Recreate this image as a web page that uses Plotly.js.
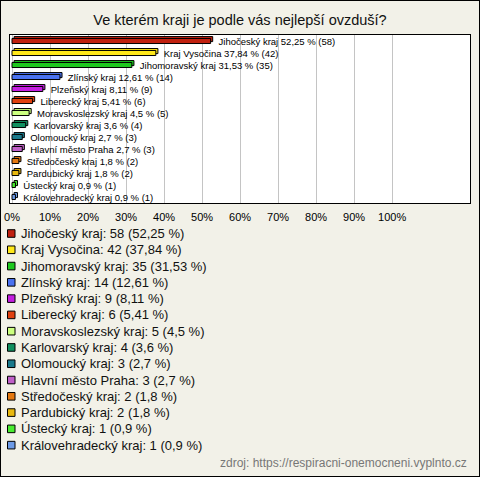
<!DOCTYPE html>
<html>
<head>
<meta charset="utf-8">
<script src="https://cdn.plot.ly/plotly-3.0.1.min.js"></script>
<style>
html,body{margin:0;padding:0;background:#f2f1e8;}
#wrap{position:relative;width:480px;height:477px;}
#chart{width:480px;height:477px;}
#frame{position:absolute;left:0;top:0;width:480px;height:477px;box-sizing:border-box;border:1px solid #000;pointer-events:none;}
</style>
</head>
<body>
<div id="wrap"><div id="chart"></div><div id="frame"></div></div>
<script>
const categories = ["Jihočeský kraj","Kraj Vysočina","Jihomoravský kraj","Zlínský kraj","Plzeňský kraj","Liberecký kraj","Moravskoslezský kraj","Karlovarský kraj","Olomoucký kraj","Hlavní město Praha","Středočeský kraj","Pardubický kraj","Ústecký kraj","Královehradecký kraj"];
const counts = [58,42,35,14,9,6,5,4,3,3,2,2,1,1];
const percents = [52.25,37.84,31.53,12.61,8.11,5.41,4.5,3.6,2.7,2.7,1.8,1.8,0.9,0.9];
const percentLabels = ["52,25","37,84","31,53","12,61","8,11","5,41","4,5","3,6","2,7","2,7","1,8","1,8","0,9","0,9"];
const colors = ["#c0200f","#ffe81a","#1ec81e","#4a72f0","#c41ee0","#e0400f","#ccff80","#119060","#1a7a8c","#c060c8","#e47810","#e8b810","#48ec30","#6c9ae6"];
const tickVals = [0,10,20,30,40,50,60,70,80,90,100];
const tickText = ["0%","10%","20%","30%","40%","50%","60%","70%","80%","90%","100%"];

const barLabels = categories.map((c,i)=>"\u00a0\u00a0\u00a0"+c+" "+percentLabels[i]+" % ("+counts[i]+")");
const legendLabels = categories.map((c,i)=>c+": "+counts[i]+" ("+percentLabels[i]+" %)");

const W = 0.42;
const shadow = {
  type:'bar', orientation:'h', y:categories, x:percents, base:0.55,
  width:W, offset:-W/2-0.16,
  marker:{color:colors, line:{color:'#000', width:1}},
  hoverinfo:'skip', showlegend:false
};
const main = {
  type:'bar', orientation:'h', y:categories, x:percents,
  width:W, offset:-W/2,
  marker:{color:colors, line:{color:'#000', width:1}},
  text:barLabels, textposition:'outside', cliponaxis:false, constraintext:'none',
  textfont:{family:'Liberation Sans, Arial', size:9.5, color:'#000'},
  showlegend:false
};

const H = 477, plotTop = 35, plotBottom = 203, plotLeft = 10, plotRight = 470;
const pw = plotRight-plotLeft, ph = plotBottom-plotTop;
const px = x => (x-plotLeft)/pw;
const py = y => (plotBottom-y)/ph;

const annotations = [];
const shapes = [];
legendLabels.forEach((t,i)=>{
  const yc = 233.5 + 16.28*i;
  annotations.push({xref:'paper', yref:'paper', x:px(19), y:py(yc), xanchor:'left', yanchor:'middle',
    text:t, showarrow:false, font:{family:'Liberation Sans, Arial', size:13, color:'#111'}});
  shapes.push({type:'rect', xref:'paper', yref:'paper', x0:px(7.5), x1:px(15), y0:py(yc-3.8), y1:py(yc+3.8),
    fillcolor:colors[i], line:{color:'#000', width:1}});
});
annotations.push({xref:'paper', yref:'paper', x:px(469), y:py(463), xanchor:'right', yanchor:'middle',
  text:'zdroj: https://respiracni-onemocneni.vyplnto.cz', showarrow:false,
  font:{family:'Liberation Sans, Arial', size:12, color:'#777'}});

const layout = {
  width:480, height:477,
  paper_bgcolor:'#f2f1e8', plot_bgcolor:'#ffffff',
  margin:{l:plotLeft, r:480-plotRight, t:plotTop, b:H-plotBottom, pad:0},
  title:{text:'Ve kterém kraji je podle vás nejlepší ovzduší?', x:0.5, xref:'container', y:1-20/H, yref:'container', yanchor:'middle',
    font:{family:'Liberation Sans, Arial', size:14.5, color:'#111'}},
  barmode:'overlay',
  xaxis:{range:[-0.53,120.5], tickvals:tickVals, ticktext:tickText, showgrid:true, gridcolor:'#c4c4c4', gridwidth:1,
    zeroline:false, showline:true, linecolor:'#000', linewidth:1, mirror:true, ticks:'', ticklabelstandoff:4,
    tickfont:{family:'Liberation Sans, Arial', size:11, color:'#000'}, fixedrange:true},
  yaxis:{autorange:'reversed', showticklabels:false, showgrid:false, zeroline:false, showline:true, linecolor:'#000', linewidth:1, mirror:true, ticks:'', fixedrange:true},
  annotations:annotations, shapes:shapes,
  showlegend:false
};
Plotly.newPlot('chart',[shadow, main],layout,{displayModeBar:false, staticPlot:true});
</script>
</body>
</html>
